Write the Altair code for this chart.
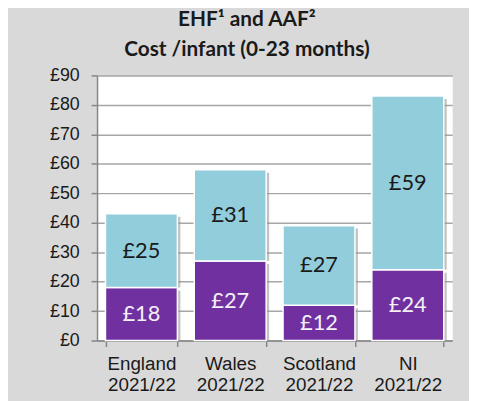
import altair as alt
import pandas as pd

regions = ["England", "Wales", "Scotland", "NI"]
period = "2021/22"
series_names = ["EHF", "AAF"]
lower_values = [18, 27, 12, 24]
upper_values = [25, 31, 27, 59]
y_ticks = [0, 10, 20, 30, 40, 50, 60, 70, 80, 90]

purple = "#7030A0"
light_blue = "#92CDDC"

rows = []
for i, r in enumerate(regions):
    rows.append({"region": r, "series": series_names[0], "order": 0, "value": lower_values[i]})
    rows.append({"region": r, "series": series_names[1], "order": 1, "value": upper_values[i]})
df = pd.DataFrame(rows)

base = (
    alt.Chart(df)
    .transform_stack(stack="value", as_=["y0", "y1"], groupby=["region"],
                     sort=[alt.SortField("order", order="ascending")])
    .transform_calculate(mid="(datum.y0 + datum.y1) / 2", label="'£' + datum.value")
)

x_scale = alt.Scale(paddingInner=0.19, paddingOuter=0.095)
x_axis = alt.Axis(title=None, labelAngle=0,
                  labelExpr=f"datum.label ? [datum.label, '{period}'] : ''",
                  tickBand="extent", tickSize=6, tickColor="#868686", tickWidth=1.5,
                  domainColor="#868686", domainWidth=1.5,
                  labelFont="Liberation Sans", labelFontSize=19, labelLineHeight=22,
                  labelColor="#1a1a1a", labelPadding=8)

y_scale = alt.Scale(domain=[0, 90], nice=False)
y_axis = alt.Axis(title=None, values=y_ticks, labelExpr="'£' + datum.value",
                  labelOverlap=False,
                  grid=True, gridColor="#A6A6A6", gridWidth=1.5,
                  domainColor="#868686", domainWidth=1.5,
                  tickColor="#868686", tickWidth=1.5, tickSize=6,
                  labelPadding=12, labelFont="Liberation Sans",
                  labelFontSize=18, labelColor="#1a1a1a")

shadow = base.mark_bar(color="#9A9A9A", opacity=0.6, xOffset=3, y2Offset=3).encode(
    x=alt.X("region:N", sort=regions, scale=x_scale, axis=x_axis),
    y=alt.Y("y0:Q", scale=y_scale, axis=y_axis),
    y2="y1:Q",
)

bars = base.mark_bar(stroke="white", strokeWidth=1.5).encode(
    x=alt.X("region:N", sort=regions, scale=x_scale, axis=x_axis),
    y=alt.Y("y0:Q", scale=y_scale, axis=y_axis),
    y2="y1:Q",
    color=alt.Color("series:N", scale=alt.Scale(domain=series_names, range=[purple, light_blue]),
                    legend=None),
)

text = base.mark_text(font="Lato", fontSize=22, baseline="middle").encode(
    x=alt.X("region:N", sort=regions, scale=x_scale, axis=x_axis),
    y=alt.Y("mid:Q", scale=y_scale, axis=y_axis),
    text="label:N",
    color=alt.condition(alt.datum.series == series_names[0], alt.value("#F4F0F8"), alt.value("#1a1a1a")),
)

chart = (
    alt.layer(shadow, bars, text)
    .properties(
        width=359, height=268,
        autosize=alt.AutoSizeParams(type="none"),
        padding={"left": 90, "top": 66, "right": 17, "bottom": 59},
        title=alt.TitleParams(
            text=["EHF¹ and AAF²", "Cost /infant (0-23 months)"],
            font="Lato", fontWeight="bold", fontSize=21, lineHeight=30,
            color="#1a1a1a", anchor="middle", dx=-28, offset=7,
        ),
    )
    .configure(background="#D9D9D9")
    .configure_view(fill="white", strokeOpacity=0)
)

chart.save("out.html", embed_options={"renderer": "svg", "actions": False})
